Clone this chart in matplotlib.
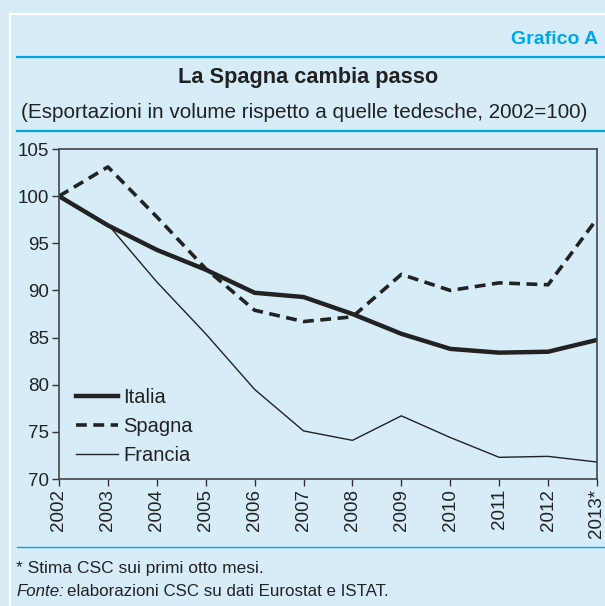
import matplotlib
matplotlib.use("Agg")
import matplotlib.pyplot as plt
from matplotlib.lines import Line2D
from matplotlib import font_manager

years = ["2002", "2003", "2004", "2005", "2006", "2007", "2008", "2009", "2010", "2011", "2012", "2013*"]
italia = [100, 96.9, 94.3, 92.2, 89.75, 89.3, 87.5, 85.4, 83.8, 83.4, 83.5, 84.75]
spagna = [100, 103.1, 97.8, 92.3, 87.9, 86.7, 87.2, 91.7, 90.0, 90.8, 90.6, 97.6]
francia = [100, 97.0, 90.9, 85.4, 79.5, 75.1, 74.1, 76.7, 74.4, 72.3, 72.4, 71.8]
yticks = [70, 75, 80, 85, 90, 95, 100, 105]

names = {f.name for f in font_manager.fontManager.ttflist}
narrow = "Liberation Sans Narrow" in names
cond = "Liberation Sans Narrow" if narrow else "Liberation Sans"
reg = "Liberation Sans"

BG = "#D6EDF9"
BLUE = "#00A6E6"
DARK = "#222222"

W, H = 605, 606
fig = plt.figure(figsize=(W / 100, H / 100), dpi=100, facecolor=BG)

def fx(px):
    return px / W

def fy(py):
    return 1 - py / H

# white frame lines
fig.add_artist(Line2D([fx(9.5), fx(9.5)], [fy(13.5), 0], color="white", lw=1.6))
fig.add_artist(Line2D([fx(9.5), 1], [fy(13.5), fy(13.5)], color="white", lw=1.6))
# blue rules
for y in (57, 131, 547):
    fig.add_artist(Line2D([fx(17), 1], [fy(y), fy(y)], color=BLUE, lw=1.6 if y != 547 else 1.0))

fig.text(fx(598), fy(40), "Grafico A", color=BLUE, fontsize=14, fontweight="bold",
         family=cond, ha="right", va="center")
fig.text(fx(308), fy(78), "La Spagna cambia passo", color=DARK,
         fontsize=17 if narrow else 15.7, fontweight="bold",
         family=cond, ha="center", va="center")
fig.text(fx(304), fy(113), "(Esportazioni in volume rispetto a quelle tedesche, 2002=100)", color=DARK,
         fontsize=16 if narrow else 14.9, family=cond, ha="center", va="center")
fig.text(fx(16), fy(568), "* Stima CSC sui primi otto mesi.", color=DARK, fontsize=12.5,
         family=cond, ha="left", va="center")
t1 = fig.text(fx(16), fy(592), "Fonte:", color=DARK, fontsize=12.2, family=cond,
              style="italic", ha="left", va="center")
fig.canvas.draw()
bb = t1.get_window_extent()
fig.text(bb.x1 / W + fx(3), fy(592), "elaborazioni CSC su dati Eurostat e ISTAT.", color=DARK,
         fontsize=12.2, family=cond, ha="left", va="center")

ax = fig.add_axes([fx(59), fy(479), fx(597) - fx(59), fy(149) - fy(479)])
ax.set_facecolor(BG)
x = list(range(len(years)))
ax.plot(x, italia, color=DARK, lw=3.2, label="Italia", solid_joinstyle="round")
ax.plot(x, spagna, color=DARK, lw=2.6, dashes=(3.0, 1.8), label="Spagna")
ax.plot(x, francia, color=DARK, lw=1.0, label="Francia")

ax.set_xlim(0, len(years) - 1)
ax.set_ylim(70, 105)
ax.set_yticks(yticks)
ax.set_yticklabels([str(v) for v in yticks], family=reg, fontsize=13.5, color=DARK)
ax.set_xticks(x)
ax.set_xticklabels(years, rotation=90, family=reg, fontsize=13.5, color=DARK)
ax.tick_params(axis="both", direction="out", length=5, width=1, color="#333333", pad=2)
for s in ax.spines.values():
    s.set_color("#444444")
    s.set_linewidth(1.2)

leg = ax.legend(loc="lower left", bbox_to_anchor=(0.005, 0.0), frameon=False,
                prop={"family": reg, "size": 14.5}, handlelength=2.1, handletextpad=0.25,
                labelspacing=0.5, borderaxespad=0.3)
for t in leg.get_texts():
    t.set_color(DARK)

fig.savefig("out.png", dpi=100, facecolor=BG)
